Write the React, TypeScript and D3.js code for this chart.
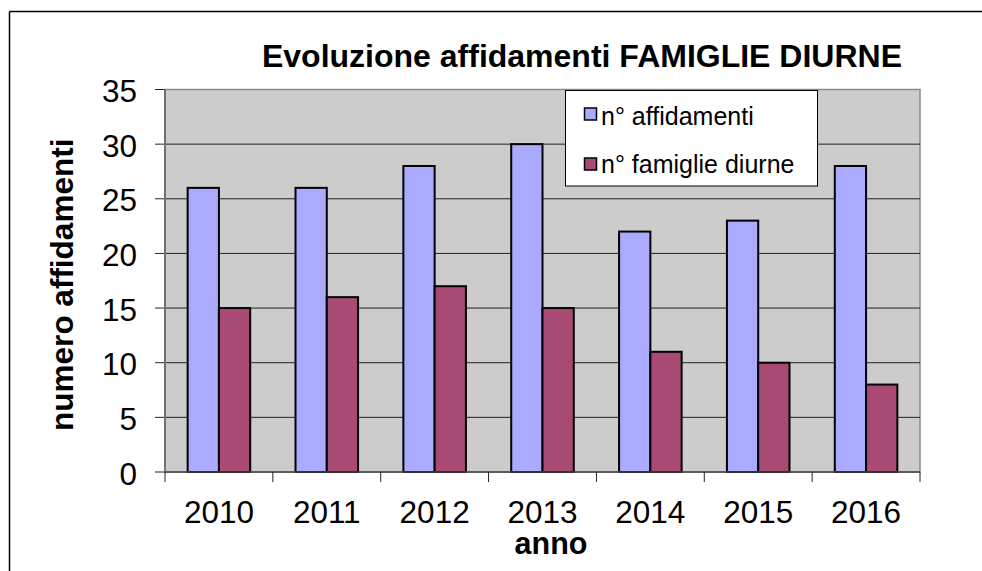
import React, { useEffect } from "react";
import * as d3 from "d3";

const categories = ["2010", "2011", "2012", "2013", "2014", "2015", "2016"];
const affidamenti = [26, 26, 28, 30, 22, 23, 28];
const famiglie = [15, 16, 17, 15, 11, 10, 8];
const seriesNames = ["n° affidamenti", "n° famiglie diurne"];
const seriesColors = ["#aaaaff", "#a94a74"];
const yTicks = [0, 5, 10, 15, 20, 25, 30, 35];
const titleText = "Evoluzione affidamenti FAMIGLIE DIURNE";
const xTitle = "anno";
const yTitle = "numero affidamenti";

const W = 982;
const H = 571;
const plot = { left: 165, right: 920, top: 89.5, bottom: 472 };
const FONT = "'Liberation Sans', Arial, Helvetica, sans-serif";

export default function App() {
  useEffect(() => {
    document.body.style.margin = "0";
    document.documentElement.style.overflow = "hidden";
    document.body.style.overflow = "hidden";
  }, []);
  const x = d3.scaleBand<string>().domain(categories).range([plot.left, plot.right]).paddingInner(0).paddingOuter(0);
  const bw = x.bandwidth();
  const inner = d3
    .scaleBand<number>()
    .domain([0, 1])
    .range([bw * 0.21, bw * 0.79])
    .paddingInner(0)
    .paddingOuter(0);
  const y = d3.scaleLinear().domain([0, 35]).range([plot.bottom, plot.top]);
  const series = [affidamenti, famiglie];
  const boundaries = categories.map((c) => x(c) as number).concat([plot.right]);

  return (
    <svg width={W} height={H} style={{ position: "absolute", left: 0, top: 0, background: "#fff", display: "block" }} fontFamily={FONT}>
      <line x1={9.5} x2={W} y1={11.5} y2={11.5} stroke="#000" strokeWidth={1.5} />
      <line x1={9.5} x2={9.5} y1={11.5} y2={H} stroke="#000" strokeWidth={1.5} />
      <text x={582} y={67} textAnchor="middle" fontSize={32} fontWeight="bold" fill="#000">
        {titleText}
      </text>
      <rect x={plot.left} y={plot.top} width={plot.right - plot.left} height={plot.bottom - plot.top} fill="#cccccc" stroke="#8a8a8a" strokeWidth={1.5} />
      {yTicks.map((t) => (
        <g key={t}>
          {t > 0 && t < 35 && (
            <line x1={plot.left} x2={plot.right} y1={y(t)} y2={y(t)} stroke="#222" strokeWidth={1} />
          )}
          <line x1={155} x2={plot.left} y1={y(t)} y2={y(t)} stroke="#222" strokeWidth={1} />
          <text x={137} y={y(t) + 12.5} textAnchor="end" fontSize={31.5} fill="#000">
            {t}
          </text>
        </g>
      ))}
      <line x1={plot.left} x2={plot.left} y1={plot.top} y2={plot.bottom} stroke="#707070" strokeWidth={2} />
      {categories.map((c, i) =>
        series.map((s, j) => (
          <rect
            key={c + j}
            x={(x(c) as number) + (inner(j) as number)}
            y={y(s[i])}
            width={inner.bandwidth()}
            height={y(0) - y(s[i])}
            fill={seriesColors[j]}
            stroke="#000"
            strokeWidth={2}
          />
        ))
      )}
      <line x1={plot.left} x2={plot.right} y1={plot.bottom} y2={plot.bottom} stroke="#444" strokeWidth={1.5} />
      {boundaries.map((b, i) => (
        <line key={i} x1={b} x2={b} y1={plot.bottom} y2={plot.bottom + 10} stroke="#222" strokeWidth={1} />
      ))}
      {categories.map((c) => (
        <text key={c} x={(x(c) as number) + bw / 2} y={523} textAnchor="middle" fontSize={31.5} fill="#000">
          {c}
        </text>
      ))}
      <text x={551} y={554} textAnchor="middle" fontSize={30.5} fontWeight="bold" fill="#000">
        {xTitle}
      </text>
      <text transform={`translate(73,${(plot.top + plot.bottom) / 2 + 4}) rotate(-90)`} textAnchor="middle" fontSize={31.5} fontWeight="bold" fill="#000">
        {yTitle}
      </text>
      <g>
        <rect x={565.5} y={90.5} width={252} height={95.5} fill="#fff" stroke="#000" strokeWidth={1} />
        {seriesNames.map((n, j) => (
          <g key={n}>
            <rect x={584.5} y={108 + j * 50} width={12} height={12} fill={seriesColors[j]} stroke="#000" strokeWidth={1.5} />
            <text x={601} y={125 + j * 48} fontSize={25} fill="#000">
              {n}
            </text>
          </g>
        ))}
      </g>
    </svg>
  );
}
